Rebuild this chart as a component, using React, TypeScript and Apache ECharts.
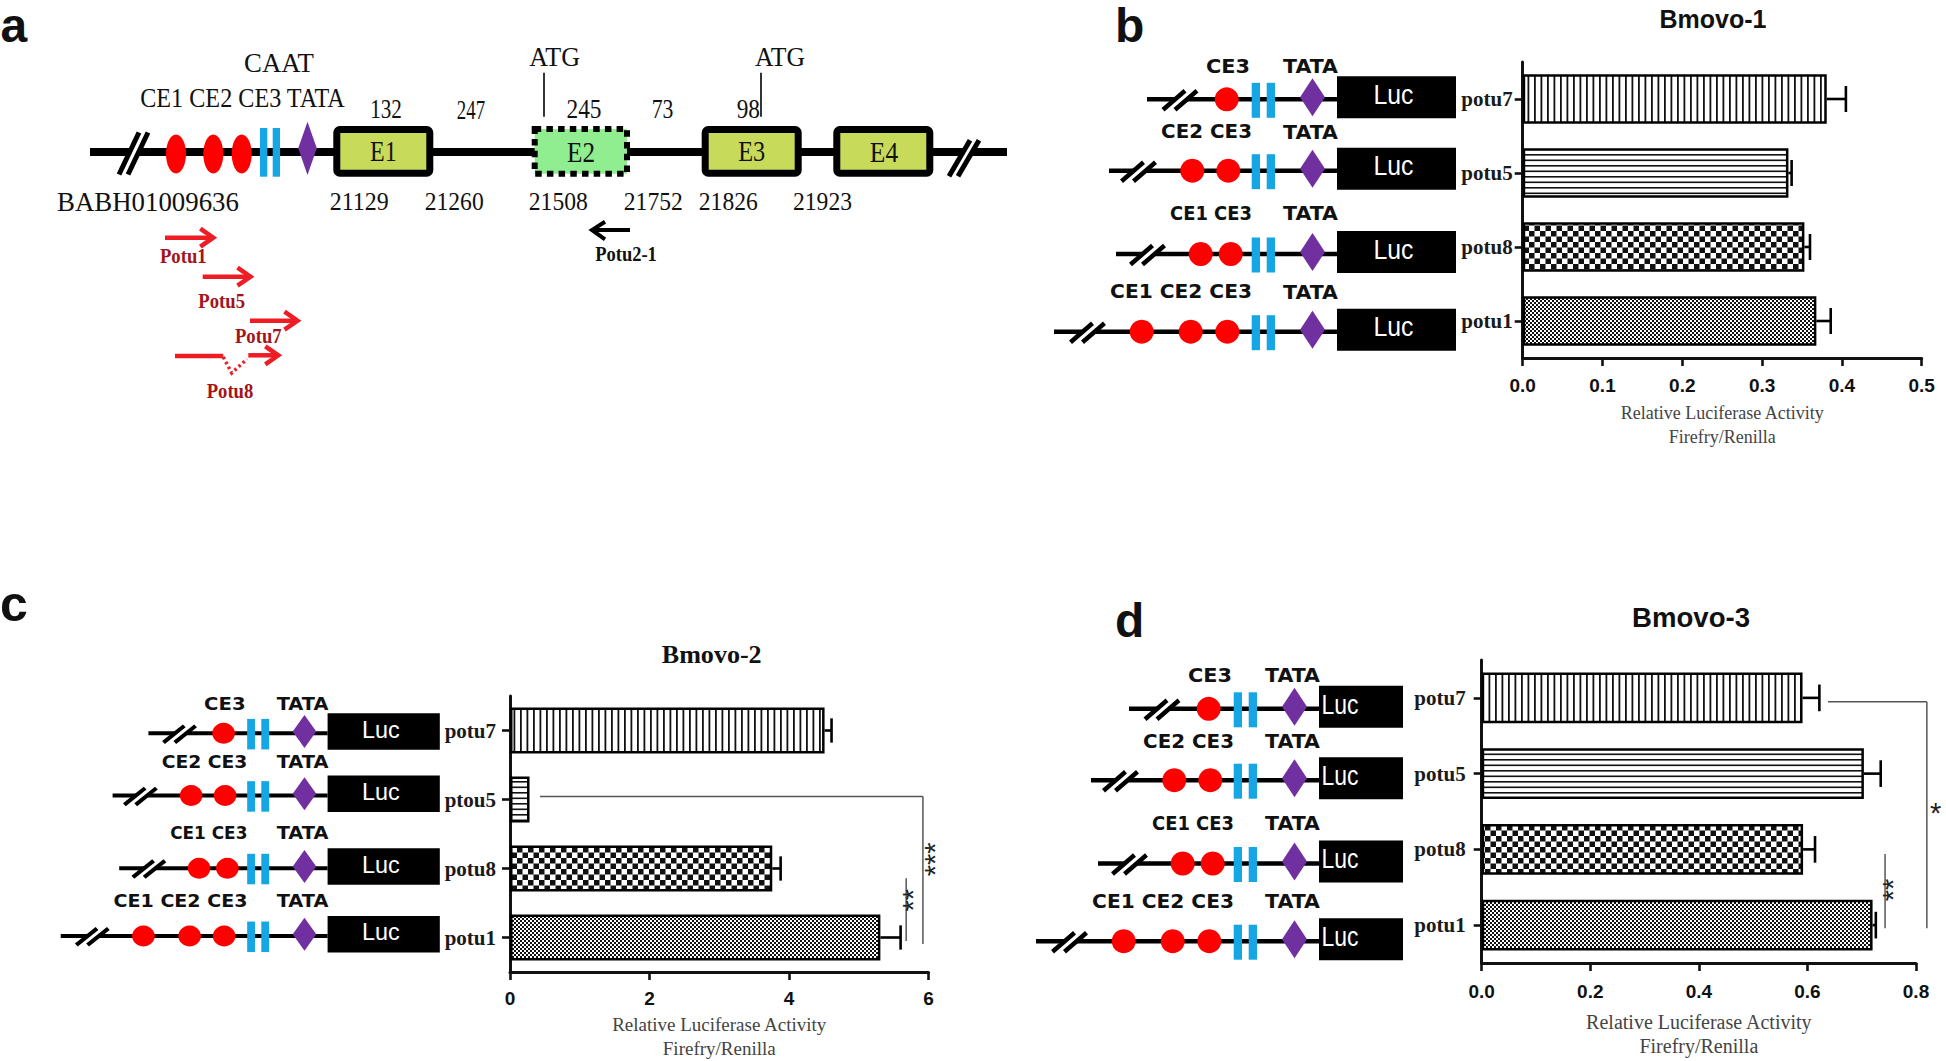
import React, { useEffect, useRef } from 'react';
import * as echarts from 'echarts';

// ---------------- data ----------------
const categoriesB = ['potu7', 'potu5', 'potu8', 'potu1'];
const valuesB = [0.381, 0.333, 0.353, 0.368];
const errorsB = [0.024, 0.004, 0.007, 0.018];
const ticksB = [0, 0.5, 0.1];

const categoriesC = ['potu7', 'ptou5', 'potu8', 'potu1'];
const valuesC = [4.51, 0.28, 3.76, 5.31];
const errorsC = [0.1, 0, 0.12, 0.29];
const ticksC = [0, 6, 2];

const categoriesD = ['potu7', 'potu5', 'potu8', 'potu1'];
const valuesD = [0.591, 0.704, 0.592, 0.72];
const errorsD = [0.031, 0.031, 0.022, 0.006];
const ticksD = [0, 0.8, 0.2];

const chartTitles = ['Bmovo-1', 'Bmovo-2', 'Bmovo-3'];
const axisTitle = 'Relative Luciferase Activity\nFirefry/Renilla';

// significance brackets: [armStart, lineX, fromCat, toCat, labelX, labelCat, label]
const bracketsC: any[] = [
  [0.43, 5.92, 0.957, 3.094, 6.093, 1.867, '***'],
  [null, 5.68, 2.14, 3.05, 5.773, 2.459, '**'],
];
const bracketsD: any[] = [
  [0.638, 0.82, 0.05, 3.04, 0.836, 1.444, '*'],
  [null, 0.743, 2.06, 3.04, 0.757, 2.535, '**'],
];

const constructLabels = ['CE3', 'CE2 CE3', 'CE1 CE3', 'CE1 CE2 CE3'];
const exonLabels = ['E1', 'E2', 'E3', 'E4'];
const coordLabels = ['21129', '21260', '21508', '21752', '21826', '21923'];
const lengthLabels = ['132', '247', '245', '73', '98'];
const primerLabels = ['Potu1', 'Potu5', 'Potu7', 'Potu8'];

// ---------------- styling ----------------
const SANS = '"Liberation Sans"';
const SERIF = '"Liberation Serif"';
const DEJAVU = '"DejaVu Sans"';
const RED = '#FF0000';
const BLUE = '#17A6E4';
const PURPLE = '#7030A0';
const EXON = '#C8DA5A';
const EXON2 = '#90EE90';
const ARROW = '#EE1C24';
const PRIMER = '#A3141B';

function makeCanvas(w: number, h: number, draw: (g: CanvasRenderingContext2D) => void) {
  const c = document.createElement('canvas');
  c.width = w;
  c.height = h;
  const g = c.getContext('2d')!;
  g.fillStyle = '#fff';
  g.fillRect(0, 0, w, h);
  g.fillStyle = '#111';
  draw(g);
  return c;
}

function buildOption() {
  const mctx = document.createElement('canvas').getContext('2d')!;
  const T = (text: string, cx: number, cy: number, size: number, width: number, o: any = {}) => {
    const font = `${o.weight || 'normal'} ${size}px ${o.family || SERIF}`;
    mctx.font = font;
    const w = mctx.measureText(text).width || 1;
    const sx = width ? width / w : 1;
    const align = o.align || 'center';
    return {
      type: 'text', x: cx, y: cy, scaleX: sx, rotation: o.rotation || 0, silent: true, z: 10,
      style: {
        text, x: 0, y: 0, font, fill: o.color || '#111',
        align, textAlign: align, verticalAlign: 'middle', textVerticalAlign: 'middle',
      },
    };
  };
  const L = (x1: number, y1: number, x2: number, y2: number, w: number, color = '#000', extra: any = {}) => ({
    type: 'line', silent: true, shape: { x1, y1, x2, y2 }, style: { stroke: color, lineWidth: w, ...extra },
  });
  const Rect = (x: number, y: number, w: number, h: number, fill: string) => ({
    type: 'rect', silent: true, shape: { x, y, width: w, height: h }, style: { fill },
  });
  const Poly = (points: number[][], fill: string) => ({ type: 'polygon', silent: true, shape: { points }, style: { fill } });
  const PolyL = (points: number[][], w: number, color: string, extra: any = {}) => ({
    type: 'polyline', silent: true, shape: { points }, style: { stroke: color, lineWidth: w, fill: null, ...extra },
  });
  const brk = (cx: number, cy: number, hdx: number, hdy: number, off: number, w: number) => {
    const len = Math.hypot(hdx, hdy);
    const gap = (2 * off * hdy) / len;
    return [
      L(cx - hdx, cy + hdy, cx + hdx, cy - hdy, gap + 1, '#fff'),
      L(cx - off - hdx, cy + hdy, cx - off + hdx, cy - hdy, w),
      L(cx + off - hdx, cy + hdy, cx + off + hdx, cy - hdy, w),
    ];
  };
  const arrowR = (x1: number, x2: number, y: number, color: string, w = 4.5) => [
    L(x1, y, x2 - 2, y, w, color),
    PolyL([[x2 - 13, y - 9], [x2, y], [x2 - 13, y + 9]], w, color),
  ];

  // ---------- panel a ----------
  const A: any[] = [];
  A.push(L(90, 152, 1007, 152, 8));
  A.push(...brk(133.5, 153.5, 10, 21, 4.5, 5));
  A.push(...brk(964, 158.3, 10.5, 18, 4.5, 5));
  [176, 213.3, 241.7].forEach((cx) =>
    A.push({ type: 'ellipse', silent: true, shape: { cx, cy: 154, rx: 10, ry: 19.5 }, style: { fill: RED } })
  );
  A.push(Rect(260, 128, 7.3, 48.7, BLUE), Rect(272.7, 128, 7.3, 48.7, BLUE));
  A.push(Poly([[307.5, 121.7], [316.8, 148.3], [307.5, 175], [298.2, 148.3]], PURPLE));
  const exons = [
    [333.3, 433.3, EXON, false, 383.3, 26.7],
    [531.7, 630, EXON2, true, 581, 28],
    [701.7, 801.7, EXON, false, 751.7, 27],
    [833.3, 933.3, EXON, false, 884, 28.3],
  ] as any[];
  exons.forEach((e, i) => {
    const lw = e[3] ? 6 : 7;
    A.push({
      type: 'rect', silent: true,
      shape: { x: e[0] + lw / 2, y: 126 + lw / 2, width: e[1] - e[0] - lw, height: 50.7 - lw, r: e[3] ? 0 : 3 },
      style: { fill: e[2], stroke: '#000', lineWidth: lw, lineDash: e[3] ? [6.5, 5.2] : null, lineCap: 'butt' },
    });
    A.push(T(exonLabels[i], e[4], 151.5, 30, e[5]));
  });
  A.push(L(544, 72.7, 544, 116.7, 1.6), L(761, 72.7, 761, 116.7, 1.6));
  A.push(T('CAAT', 279, 63, 27, 70));
  A.push(T('CE1 CE2 CE3 TATA', 242.5, 98, 27, 205));
  const lenPos = [[386, 109, 31.7], [471, 110, 28.3], [584, 109, 35], [662.5, 109, 21.7], [748.3, 109, 23.3]];
  lengthLabels.forEach((t, i) => A.push(T(t, lenPos[i][0], lenPos[i][1], 27, lenPos[i][2])));
  A.push(T('ATG', 554.7, 56.7, 28, 50.7), T('ATG', 780, 56.7, 28, 50));
  A.push(T('BABH01009636', 148, 202, 27, 182));
  const coordX = [359.2, 454.2, 558.3, 653.3, 728.3, 822.5];
  coordLabels.forEach((t, i) => A.push(T(t, coordX[i], 201, 26, 59)));
  A.push(...arrowR(165, 213.3, 237.7, ARROW));
  A.push(...arrowR(202.7, 250.5, 276.7, ARROW));
  A.push(...arrowR(250, 297.5, 320.7, ARROW));
  A.push(L(175, 356, 223.3, 356, 4.5, ARROW));
  A.push(PolyL([[223.3, 357], [231.7, 373], [247, 359]], 3.5, ARROW, { lineDash: [2.5, 3] }));
  A.push(...arrowR(248.3, 278.3, 355.3, ARROW));
  const primerPos = [[183.3, 255], [221.7, 300], [258.3, 335], [230, 390]];
  primerLabels.forEach((t, i) =>
    A.push(T(t, primerPos[i][0], primerPos[i][1], 22, 46.7, { weight: 'bold', color: PRIMER }))
  );
  A.push(L(596, 230, 630, 230, 4), PolyL([[605, 221.7], [592, 230], [605, 239.3]], 4, '#000'));
  A.push(T('Potu2-1', 626, 253, 22, 61.7, { weight: 'bold', color: '#111' }));

  // ---------- promoter constructs (panel b frame) ----------
  const rows = [
    { y: 99.3, start: 1147, brk: 1180, circles: [1226.7], ceX: 1228, ceW: 44, ldy: -33.5 },
    { y: 170.7, start: 1109, brk: 1138.5, circles: [1192.3, 1228.3], ceX: 1206.5, ceW: 91, ldy: -39 },
    { y: 254, start: 1116, brk: 1147.5, circles: [1200.7, 1230.7], ceX: 1211, ceW: 82, ldy: -40.5 },
    { y: 331.7, start: 1054, brk: 1087.5, circles: [1141.7, 1190.7, 1227.3], ceX: 1181, ceW: 142, ldy: -40 },
  ];
  const construct = (lucW: number, narrow: boolean) => {
    const out: any[] = [];
    rows.forEach((r, i) => {
      const y = r.y;
      const lx = 1337;
      out.push(L(r.start, y, lx, y, 4.5));
      out.push(...brk(r.brk, y + 1, 11, 9.5, 6, 4.5));
      r.circles.forEach((cx) =>
        out.push({ type: 'circle', silent: true, shape: { cx, cy: y, r: 12 }, style: { fill: RED } })
      );
      out.push(Rect(1251.7, y - 16.5, 8.3, 35, BLUE), Rect(1266.7, y - 16.5, 8.3, 35, BLUE));
      out.push(Poly([[1312.5, y - 21], [1325, y - 2], [1312.5, y + 17], [1300, y - 2]], PURPLE));
      out.push(Rect(lx, y - 23, lucW, 42, '#000'));
      out.push(
        narrow
          ? T('Luc', lx + 21, y - 5, 28, 37, { family: SANS, color: '#fff' })
          : T('Luc', 1393.5, y - 5, 28, 40, { family: SANS, color: '#fff' })
      );
      out.push(T(constructLabels[i], r.ceX, y + r.ldy, 19.5, r.ceW, { family: DEJAVU, weight: 'bold' }));
      out.push(T('TATA', 1310.5, y + r.ldy, 19.5, 55, { family: DEJAVU, weight: 'bold' }));
    });
    return out;
  };

  const graphic: any[] = [
    { type: 'group', children: A },
    { type: 'group', x: 0, y: 0, children: construct(119, false) },
    { type: 'group', x: -933.2, y: 646.7, scaleX: 0.943, scaleY: 0.872, children: construct(119, false) },
    { type: 'group', x: -18, y: 609.5, children: construct(84, true) },
    T(chartTitles[0], 1713, 18.8, 25, 107, { family: SANS, weight: 'bold' }),
    T(chartTitles[1], 711.7, 655, 26, 100, { family: SERIF, weight: 'bold' }),
    T(chartTitles[2], 1691, 617.5, 27, 118, { family: SANS, weight: 'bold' }),
    T('a', 0.5, 25.5, 48, 0, { family: SANS, weight: 'bold', align: 'left' }),
    T('b', 1115, 25.5, 48, 0, { family: SANS, weight: 'bold', align: 'left' }),
    T('c', 0, 604, 50, 0, { family: SANS, weight: 'bold', align: 'left' }),
    T('d', 1115, 620, 48, 0, { family: SANS, weight: 'bold', align: 'left' }),
  ];

  // ---------- bar charts ----------
  const patterns = [
    { image: makeCanvas(13, 4, (g) => { g.fillRect(0, 0, 1.8, 4); g.fillRect(6.5, 0, 1.8, 4); }), repeat: 'repeat' },
    { image: makeCanvas(4, 11, (g) => { g.fillRect(0, 0, 4, 1.6); g.fillRect(0, 5.5, 4, 1.6); }), repeat: 'repeat' },
    { image: makeCanvas(11, 11, (g) => { g.fillRect(0, 0, 5.5, 5.5); g.fillRect(5.5, 5.5, 5.5, 5.5); }), repeat: 'repeat' },
    { image: makeCanvas(4, 4, (g) => { g.fillRect(0, 0, 2, 2); g.fillRect(2, 2, 2, 2); }), repeat: 'repeat' },
  ];

  const valueAxis = (i: number, t: number[], margin: number, nameGap: number, nameSize: number, digits: number) => ({
    type: 'value', gridIndex: i, min: t[0], max: t[1], interval: t[2],
    axisLine: { show: true, lineStyle: { color: '#111', width: 3 } },
    axisTick: { show: true, length: 8, lineStyle: { color: '#111', width: 2.6 } },
    splitLine: { show: false },
    axisLabel: {
      fontFamily: 'Liberation Sans', fontWeight: 'bold', fontSize: 19, color: '#111', margin,
      formatter: (v: number) => v.toFixed(digits),
    },
    name: axisTitle, nameLocation: 'middle', nameGap,
    nameTextStyle: { fontFamily: 'Liberation Serif', fontSize: nameSize, color: '#444', lineHeight: 24 },
  });
  const catAxis = (i: number, cats: string[], margin: number) => ({
    type: 'category', gridIndex: i, data: cats, inverse: true,
    axisLine: { show: true, onZero: false, lineStyle: { color: '#111', width: 3 } },
    axisTick: { show: true, alignWithLabel: true, length: 8, lineStyle: { color: '#111', width: 2.6 } },
    axisLabel: { fontFamily: 'Liberation Serif', fontWeight: 'bold', fontSize: 21, color: '#1a1a1a', margin },
  });
  const barSeries = (i: number, values: number[]) => ({
    type: 'bar', xAxisIndex: i, yAxisIndex: i, silent: true, barCategoryGap: '33%', z: 2,
    itemStyle: { borderColor: '#000', borderWidth: 2.5 },
    data: values.map((v, k) => ({ value: v, itemStyle: { color: patterns[k] } })),
  });
  const errSeries = (i: number, values: number[], errors: number[]) => ({
    type: 'custom', xAxisIndex: i, yAxisIndex: i, clip: false, silent: true, z: 3,
    data: values.map((v, k) => [v, k, errors[k]]),
    encode: { x: 0, y: 1 },
    renderItem: (params: any, api: any) => {
      const v = api.value(0);
      const k = api.value(1);
      const e = api.value(2);
      if (!(e > 0)) return { type: 'group', children: [] };
      const p0 = api.coord([v, k]);
      const p1 = api.coord([v + e, k]);
      const h = api.size([0, 1])[1] * 0.176;
      return {
        type: 'group',
        children: [
          { type: 'line', shape: { x1: p0[0], y1: p0[1], x2: p1[0], y2: p1[1] }, style: { stroke: '#000', lineWidth: 2.6 } },
          { type: 'line', shape: { x1: p1[0], y1: p1[1] - h, x2: p1[0], y2: p1[1] + h }, style: { stroke: '#000', lineWidth: 2.6 } },
        ],
      };
    },
  });
  const bracketSeries = (i: number, brs: any[]) => ({
    type: 'custom', xAxisIndex: i, yAxisIndex: i, clip: false, silent: true, z: 4,
    data: brs.map((b, k) => [b[1], 0, k]),
    encode: { x: 0, y: 1 },
    renderItem: (params: any, api: any) => {
      const b = brs[params.dataIndex];
      const band = api.size([0, 1])[1];
      const base = api.coord([0, 0]);
      const yOf = (p: number) => base[1] + p * band;
      const xOf = (v: number) => api.coord([v, 0])[0];
      const xl = xOf(b[1]);
      const st = { stroke: '#555', lineWidth: 1.5 };
      const children: any[] = [];
      if (b[0] != null) children.push({ type: 'line', shape: { x1: xOf(b[0]), y1: yOf(b[2]), x2: xl, y2: yOf(b[2]) }, style: st });
      children.push({ type: 'line', shape: { x1: xl, y1: yOf(b[2]), x2: xl, y2: yOf(b[3]) }, style: st });
      children.push({
        type: 'text', x: xOf(b[4]), y: yOf(b[5]) + (b[6].length > 1 ? 0 : 6), rotation: b[6].length > 1 ? Math.PI / 2 : 0,
        style: {
          text: b[6], x: 0, y: 0, fontSize: 29, fontFamily: 'Liberation Sans', fontWeight: 'normal',
          font: `normal 29px ${SANS}`, fill: '#222', align: 'center', textAlign: 'center',
          verticalAlign: 'middle', textVerticalAlign: 'middle',
        },
      });
      return { type: 'group', children };
    },
  });

  return {
    animation: false,
    backgroundColor: '#fff',
    grid: [
      { left: 1522.7, top: 62, width: 399, height: 296 },
      { left: 510, top: 696, width: 418.5, height: 277 },
      { left: 1481.7, top: 660, width: 434.3, height: 303 },
    ],
    xAxis: [
      valueAxis(0, ticksB, 18, 43, 18, 1),
      valueAxis(1, ticksC, 17, 40, 19, 0),
      valueAxis(2, ticksD, 19, 47, 20, 1),
    ],
    yAxis: [catAxis(0, categoriesB, 10), catAxis(1, categoriesC, 14), catAxis(2, categoriesD, 16)],
    series: [
      barSeries(0, valuesB), errSeries(0, valuesB, errorsB),
      barSeries(1, valuesC), errSeries(1, valuesC, errorsC), bracketSeries(1, bracketsC),
      barSeries(2, valuesD), errSeries(2, valuesD, errorsD), bracketSeries(2, bracketsD),
    ],
    graphic,
  };
}

export default function App() {
  const ref = useRef<HTMLDivElement>(null);
  useEffect(() => {
    if (!ref.current) return;
    const chart = echarts.init(ref.current, null, { renderer: 'svg' });
    chart.setOption(buildOption() as any);
    return () => chart.dispose();
  }, []);
  return (
    <div
      ref={ref}
      style={{ position: 'fixed', left: 0, top: 0, width: 1946, height: 1061, background: '#fff' }}
    />
  );
}
